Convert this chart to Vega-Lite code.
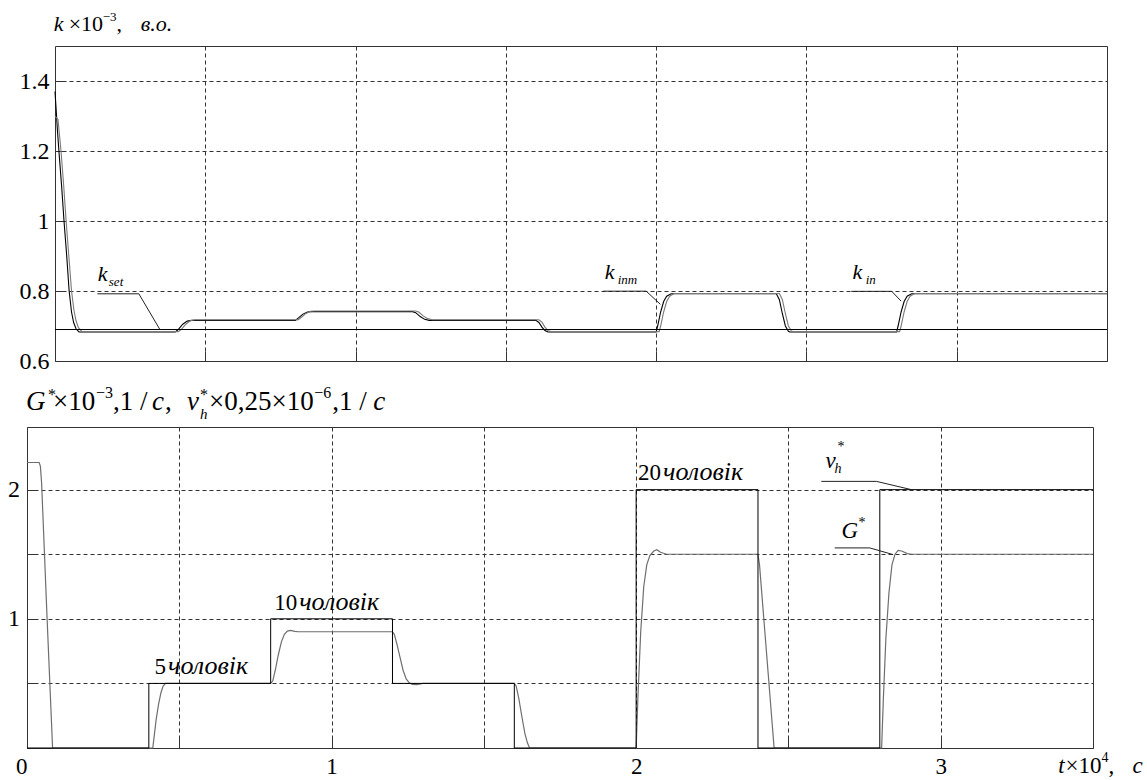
{
  "$schema": "https://vega.github.io/schema/vega-lite/v6.json",
  "padding": {"left": 5, "top": 10, "right": 0, "bottom": 0},
  "background": "white",
  "spacing": 10,
  "config": {
    "view": {"stroke": "#333", "strokeWidth": 1},
    "font": "Liberation Serif, Tinos, Times New Roman, serif",
    "text": {"font": "Liberation Serif, Tinos, Times New Roman, serif", "color": "black"},
    "axis": {"gridColor": "#333", "gridDash": [4, 3], "gridWidth": 1, "domain": false, "tickColor": "#333", "tickSize": -10, "labelFont": "Liberation Serif, Tinos, Times New Roman, serif", "labelFontSize": 24, "labelColor": "black", "format": "~g"}
  },
  "datasets": {
    "k": [
      {"s":"k_in","t":0,"k":1.37},{"s":"k_in","t":0.003,"k":1.33},{"s":"k_in","t":0.008,"k":1.26},{"s":"k_in","t":0.013,"k":1.2},{"s":"k_in","t":0.022,"k":1.1},{"s":"k_in","t":0.03,"k":1.0},{"s":"k_in","t":0.039,"k":0.9},{"s":"k_in","t":0.047,"k":0.8},{"s":"k_in","t":0.055,"k":0.74},{"s":"k_in","t":0.062,"k":0.71},{"s":"k_in","t":0.07,"k":0.692},{"s":"k_in","t":0.08,"k":0.683},{"s":"k_in","t":0.4,"k":0.683},{"s":"k_in","t":0.41,"k":0.69},{"s":"k_in","t":0.425,"k":0.705},{"s":"k_in","t":0.44,"k":0.714},{"s":"k_in","t":0.455,"k":0.716},{"s":"k_in","t":0.8,"k":0.716},{"s":"k_in","t":0.81,"k":0.723},{"s":"k_in","t":0.825,"k":0.734},{"s":"k_in","t":0.84,"k":0.74},{"s":"k_in","t":0.855,"k":0.741},{"s":"k_in","t":1.19,"k":0.741},{"s":"k_in","t":1.2,"k":0.738},{"s":"k_in","t":1.215,"k":0.727},{"s":"k_in","t":1.23,"k":0.719},{"s":"k_in","t":1.245,"k":0.716},{"s":"k_in","t":1.6,"k":0.716},{"s":"k_in","t":1.61,"k":0.71},{"s":"k_in","t":1.62,"k":0.697},{"s":"k_in","t":1.63,"k":0.687},{"s":"k_in","t":1.64,"k":0.683},{"s":"k_in","t":2.0,"k":0.683},{"s":"k_in","t":2.005,"k":0.7},{"s":"k_in","t":2.015,"k":0.74},{"s":"k_in","t":2.025,"k":0.77},{"s":"k_in","t":2.035,"k":0.785},{"s":"k_in","t":2.05,"k":0.792},{"s":"k_in","t":2.4,"k":0.792},{"s":"k_in","t":2.41,"k":0.775},{"s":"k_in","t":2.42,"k":0.735},{"s":"k_in","t":2.43,"k":0.7},{"s":"k_in","t":2.44,"k":0.685},{"s":"k_in","t":2.445,"k":0.683},{"s":"k_in","t":2.8,"k":0.683},{"s":"k_in","t":2.805,"k":0.7},{"s":"k_in","t":2.815,"k":0.74},{"s":"k_in","t":2.825,"k":0.77},{"s":"k_in","t":2.835,"k":0.785},{"s":"k_in","t":2.85,"k":0.792},{"s":"k_in","t":3.5,"k":0.792},
      {"s":"k_inm","t":0,"k":1.3},{"s":"k_inm","t":0.01,"k":1.29},{"s":"k_inm","t":0.02,"k":1.2},{"s":"k_inm","t":0.029,"k":1.1},{"s":"k_inm","t":0.037,"k":1.0},{"s":"k_inm","t":0.046,"k":0.9},{"s":"k_inm","t":0.055,"k":0.8},{"s":"k_inm","t":0.063,"k":0.745},{"s":"k_inm","t":0.07,"k":0.715},{"s":"k_inm","t":0.078,"k":0.695},{"s":"k_inm","t":0.09,"k":0.684},{"s":"k_inm","t":0.41,"k":0.684},{"s":"k_inm","t":0.42,"k":0.69},{"s":"k_inm","t":0.435,"k":0.705},{"s":"k_inm","t":0.45,"k":0.715},{"s":"k_inm","t":0.465,"k":0.718},{"s":"k_inm","t":0.81,"k":0.718},{"s":"k_inm","t":0.82,"k":0.725},{"s":"k_inm","t":0.835,"k":0.736},{"s":"k_inm","t":0.85,"k":0.742},{"s":"k_inm","t":0.865,"k":0.743},{"s":"k_inm","t":1.2,"k":0.743},{"s":"k_inm","t":1.21,"k":0.74},{"s":"k_inm","t":1.225,"k":0.729},{"s":"k_inm","t":1.24,"k":0.721},{"s":"k_inm","t":1.255,"k":0.718},{"s":"k_inm","t":1.61,"k":0.718},{"s":"k_inm","t":1.62,"k":0.711},{"s":"k_inm","t":1.63,"k":0.697},{"s":"k_inm","t":1.64,"k":0.687},{"s":"k_inm","t":1.65,"k":0.684},{"s":"k_inm","t":2.01,"k":0.684},{"s":"k_inm","t":2.015,"k":0.7},{"s":"k_inm","t":2.025,"k":0.74},{"s":"k_inm","t":2.035,"k":0.77},{"s":"k_inm","t":2.045,"k":0.785},{"s":"k_inm","t":2.06,"k":0.793},{"s":"k_inm","t":2.41,"k":0.793},{"s":"k_inm","t":2.42,"k":0.775},{"s":"k_inm","t":2.43,"k":0.735},{"s":"k_inm","t":2.44,"k":0.7},{"s":"k_inm","t":2.45,"k":0.686},{"s":"k_inm","t":2.455,"k":0.684},{"s":"k_inm","t":2.81,"k":0.684},{"s":"k_inm","t":2.815,"k":0.7},{"s":"k_inm","t":2.825,"k":0.74},{"s":"k_inm","t":2.835,"k":0.77},{"s":"k_inm","t":2.845,"k":0.785},{"s":"k_inm","t":2.86,"k":0.793},{"s":"k_inm","t":3.5,"k":0.793},
      {"s":"k_set","t":0,"k":0.69},{"s":"k_set","t":3.5,"k":0.69}
    ],
    "leadTop": [
      {"id":"set","t":0.141,"k":0.792},{"id":"set","t":0.279,"k":0.792},{"id":"set","t":0.349,"k":0.69},
      {"id":"inm","t":1.824,"k":0.7995},{"id":"inm","t":1.967,"k":0.7995},{"id":"inm","t":2.014,"k":0.762},
      {"id":"in","t":2.649,"k":0.799},{"id":"in","t":2.784,"k":0.799},{"id":"in","t":2.815,"k":0.771}
    ],
    "boxTop": [
      {"t":0.042,"t2":0.275,"k":0.807,"k2":0.905},
      {"t":1.832,"t2":1.966,"k":0.807,"k2":0.905},
      {"t":2.648,"t2":2.797,"k":0.807,"k2":0.905}
    ],
    "topIt": [
      {"t":-0.004,"k":1.543,"txt":"k"},{"t":0.2852,"k":1.543,"txt":"в.о."},
      {"t":0.142,"k":0.828,"txt":"k"},{"t":1.829,"k":0.833,"txt":"k"},{"t":2.6535,"k":0.833,"txt":"k"}
    ],
    "topUp": [
      {"t":0.0456,"k":1.543,"txt":"×10"},{"t":0.205,"k":1.543,"txt":","}
    ],
    "topSup": [
      {"t":0.1587,"k":1.5715,"txt":"−3"}
    ],
    "topSub": [
      {"t":0.179,"k":0.813,"txt":"set"},{"t":1.872,"k":0.821,"txt":"inm"},{"t":2.697,"k":0.821,"txt":"in"}
    ],
    "vh": [
      {"t":0,"v":0},{"t":0.4,"v":0.5},{"t":0.8,"v":1.0},{"t":1.2,"v":0.5},{"t":1.6,"v":0},{"t":2.0,"v":2.0},{"t":2.4,"v":0},{"t":2.8,"v":2.0},{"t":3.5,"v":2.0}
    ],
    "g": [
      {"t":0,"v":2.21},{"t":0.04,"v":2.21},{"t":0.044,"v":2.18},{"t":0.048,"v":2.05},{"t":0.066,"v":1.0},{"t":0.084,"v":0},{"t":0.413,"v":0},{"t":0.418,"v":0.1},{"t":0.424,"v":0.22},{"t":0.432,"v":0.34},{"t":0.44,"v":0.43},{"t":0.447,"v":0.48},{"t":0.455,"v":0.5},{"t":0.8,"v":0.5},{"t":0.807,"v":0.52},{"t":0.815,"v":0.6},{"t":0.825,"v":0.72},{"t":0.835,"v":0.82},{"t":0.845,"v":0.88},{"t":0.855,"v":0.905},{"t":0.865,"v":0.91},{"t":0.88,"v":0.903},{"t":0.89,"v":0.9},{"t":1.2,"v":0.9},{"t":1.206,"v":0.88},{"t":1.215,"v":0.8},{"t":1.225,"v":0.7},{"t":1.235,"v":0.6},{"t":1.245,"v":0.535},{"t":1.255,"v":0.505},{"t":1.265,"v":0.492},{"t":1.28,"v":0.49},{"t":1.3,"v":0.5},{"t":1.6,"v":0.5},{"t":1.606,"v":0.48},{"t":1.615,"v":0.38},{"t":1.625,"v":0.24},{"t":1.635,"v":0.11},{"t":1.643,"v":0.04},{"t":1.65,"v":0},{"t":2.0,"v":0},{"t":2.006,"v":0.4},{"t":2.015,"v":0.9},{"t":2.025,"v":1.25},{"t":2.035,"v":1.42},{"t":2.045,"v":1.49},{"t":2.058,"v":1.525},{"t":2.068,"v":1.535},{"t":2.08,"v":1.515},{"t":2.1,"v":1.5},{"t":2.4,"v":1.5},{"t":2.405,"v":1.42},{"t":2.453,"v":0},{"t":2.806,"v":0},{"t":2.812,"v":0.4},{"t":2.82,"v":0.85},{"t":2.83,"v":1.2},{"t":2.84,"v":1.42},{"t":2.85,"v":1.5},{"t":2.86,"v":1.53},{"t":2.872,"v":1.525},{"t":2.89,"v":1.505},{"t":2.905,"v":1.5},{"t":3.5,"v":1.5}
    ],
    "leadBot": [
      {"id":"vh","t":2.608,"v":2.064},{"id":"vh","t":2.789,"v":2.064},{"id":"vh","t":2.904,"v":2.0},
      {"id":"g","t":2.652,"v":1.549},{"id":"g","t":2.767,"v":1.549},{"id":"g","t":2.844,"v":1.497}
    ],
    "botTitleIt": [
      {"t":-0.0033,"v":2.614,"txt":"G"},{"t":0.4106,"v":2.614,"txt":"c"},{"t":0.5256,"v":2.614,"txt":"v"},{"t":1.1367,"v":2.614,"txt":"c"}
    ],
    "botTitleUp": [
      {"t":0.0854,"v":2.614,"txt":"×10"},{"t":0.2825,"v":2.614,"txt":",1 /"},{"t":0.4534,"v":2.614,"txt":","},{"t":0.5979,"v":2.614,"txt":"×0,25×10"},{"t":1.002,"v":2.614,"txt":",1 /"}
    ],
    "botTitleSup": [
      {"t":0.069,"v":2.696,"txt":"*"},{"t":0.2267,"v":2.712,"txt":"−3"},{"t":0.5683,"v":2.696,"txt":"*"},{"t":0.9428,"v":2.712,"txt":"−6"}
    ],
    "botTitleSub": [
      {"t":0.5683,"v":2.549,"txt":"h"}
    ],
    "botUp": [
      {"t":0.4183,"v":0.569,"txt":"5"},{"t":0.8114,"v":1.072,"txt":"10"},{"t":2.0062,"v":2.072,"txt":"20"},{"t":3.41,"v":-0.196,"txt":"×10"},{"t":3.551,"v":-0.196,"txt":","}
    ],
    "botWord": [
      {"t":0.4632,"v":0.569,"txt":"чоловік"},{"t":0.8936,"v":1.072,"txt":"чоловік"},{"t":2.0884,"v":2.072,"txt":"чоловік"}
    ],
    "botIt": [
      {"t":2.6216,"v":2.17,"txt":"v"},{"t":2.6741,"v":1.626,"txt":"G"},{"t":3.386,"v":-0.196,"txt":"t"},{"t":3.63,"v":-0.196,"txt":"c"}
    ],
    "botSup": [
      {"t":2.661,"v":2.302,"txt":"*"},{"t":2.73,"v":1.714,"txt":"*"},{"t":3.528,"v":-0.111,"txt":"4"}
    ],
    "botSub": [
      {"t":2.651,"v":2.131,"txt":"h"}
    ]
  },
  "vconcat": [
    {
      "hconcat": [
        {
          "width": 28,
          "height": 315,
          "view": {"stroke": null},
          "data": {"values": [{"a": 1}]},
          "mark": {"type": "point", "opacity": 0}
        },
        {
          "width": 1052,
          "height": 315,
          "layer": [
            {
              "data": {"name": "boxTop"},
              "mark": {"type": "rect", "color": "white"},
              "encoding": {
                "x": {"field": "t", "type": "quantitative", "title": null, "scale": {"domain": [0, 3.5], "nice": false, "zero": false}, "axis": {"values": [0.5, 1, 1.5, 2, 2.5, 3], "labels": false, "tickSize": -10}},
                "x2": {"field": "t2"},
                "y": {"field": "k", "type": "quantitative", "title": null, "scale": {"domain": [0.6, 1.5], "nice": false, "zero": false}, "axis": {"values": [0.6, 0.7, 0.8, 0.9, 1, 1.1, 1.2, 1.3, 1.4], "labelExpr": "round(datum.value*10) % 2 == 0 ? datum.label : ''", "labelPadding": 16, "minExtent": 49, "maxExtent": 49}},
                "y2": {"field": "k2"}
              }
            },
            {
              "data": {"name": "k"},
              "mark": {"type": "line", "strokeWidth": 1.1},
              "encoding": {
                "x": {"field": "t", "type": "quantitative", "title": null, "scale": {"domain": [0, 3.5], "nice": false, "zero": false}},
                "y": {"field": "k", "type": "quantitative", "title": null, "scale": {"domain": [0.6, 1.5], "nice": false, "zero": false}},
                "color": {"field": "s", "type": "nominal", "scale": {"domain": ["k_in", "k_inm", "k_set"], "range": ["#000000", "#7a7a7a", "#000000"]}, "legend": null}
              }
            },
            {
              "data": {"name": "leadTop"},
              "mark": {"type": "line", "strokeWidth": 1, "color": "#222"},
              "encoding": {
                "x": {"field": "t", "type": "quantitative", "title": null, "scale": {"domain": [0, 3.5], "nice": false, "zero": false}},
                "y": {"field": "k", "type": "quantitative", "title": null, "scale": {"domain": [0.6, 1.5], "nice": false, "zero": false}},
                "detail": {"field": "id"}
              }
            },
            {
              "data": {"name": "topIt"},
              "mark": {"type": "text", "align": "left", "baseline": "alphabetic", "font": "Liberation Serif, Tinos, Times New Roman, serif", "fontSize": 22, "fontStyle": "italic", "color": "black"},
              "encoding": {
                "x": {"field": "t", "type": "quantitative", "title": null, "scale": {"domain": [0, 3.5], "nice": false, "zero": false}},
                "y": {"field": "k", "type": "quantitative", "title": null, "scale": {"domain": [0.6, 1.5], "nice": false, "zero": false}},
                "text": {"field": "txt"}
              }
            },
            {
              "data": {"name": "topUp"},
              "mark": {"type": "text", "align": "left", "baseline": "alphabetic", "font": "Liberation Serif, Tinos, Times New Roman, serif", "fontSize": 22, "color": "black"},
              "encoding": {
                "x": {"field": "t", "type": "quantitative", "title": null, "scale": {"domain": [0, 3.5], "nice": false, "zero": false}},
                "y": {"field": "k", "type": "quantitative", "title": null, "scale": {"domain": [0.6, 1.5], "nice": false, "zero": false}},
                "text": {"field": "txt"}
              }
            },
            {
              "data": {"name": "topSup"},
              "mark": {"type": "text", "align": "left", "baseline": "alphabetic", "font": "Liberation Serif, Tinos, Times New Roman, serif", "fontSize": 13, "color": "black"},
              "encoding": {
                "x": {"field": "t", "type": "quantitative", "title": null, "scale": {"domain": [0, 3.5], "nice": false, "zero": false}},
                "y": {"field": "k", "type": "quantitative", "title": null, "scale": {"domain": [0.6, 1.5], "nice": false, "zero": false}},
                "text": {"field": "txt"}
              }
            },
            {
              "data": {"name": "topSub"},
              "mark": {"type": "text", "align": "left", "baseline": "alphabetic", "font": "Liberation Serif, Tinos, Times New Roman, serif", "fontSize": 13, "fontStyle": "italic", "color": "black"},
              "encoding": {
                "x": {"field": "t", "type": "quantitative", "title": null, "scale": {"domain": [0, 3.5], "nice": false, "zero": false}},
                "y": {"field": "k", "type": "quantitative", "title": null, "scale": {"domain": [0.6, 1.5], "nice": false, "zero": false}},
                "text": {"field": "txt"}
              }
            }
          ]
        }
      ],
      "spacing": 0,
      "bounds": "flush"
    },
    {
      "width": 1066,
      "height": 321,
      "layer": [
        {
          "data": {"name": "g"},
          "mark": {"type": "line", "strokeWidth": 1.2, "color": "#6e6e6e"},
          "encoding": {
            "x": {"field": "t", "type": "quantitative", "title": null, "scale": {"domain": [0, 3.5], "nice": false, "zero": false}, "axis": {"values": [0, 0.5, 1, 1.5, 2, 2.5, 3], "labelExpr": "datum.value % 1 == 0 ? datum.label : ''", "labelFlush": false, "labelFontSize": 23, "labelPadding": 17, "labelAlign": {"condition": {"test": "datum.value == 0", "value": "right"}, "value": "center"}, "tickSize": -10}},
            "y": {"field": "v", "type": "quantitative", "title": null, "scale": {"domain": [0, 2.485], "nice": false, "zero": false}, "axis": {"values": [0, 0.5, 1, 1.5, 2], "labelExpr": "datum.value == 1 || datum.value == 2 ? datum.label : ''", "labelPadding": 17.5, "minExtent": 21, "maxExtent": 21}}
          }
        },
        {
          "data": {"name": "vh"},
          "mark": {"type": "line", "strokeWidth": 1, "color": "#000", "interpolate": "step-after"},
          "encoding": {
            "x": {"field": "t", "type": "quantitative", "title": null, "scale": {"domain": [0, 3.5], "nice": false, "zero": false}},
            "y": {"field": "v", "type": "quantitative", "title": null, "scale": {"domain": [0, 2.485], "nice": false, "zero": false}}
          }
        },
        {
          "data": {"name": "leadBot"},
          "mark": {"type": "line", "strokeWidth": 1, "color": "#222"},
          "encoding": {
            "x": {"field": "t", "type": "quantitative", "title": null, "scale": {"domain": [0, 3.5], "nice": false, "zero": false}},
            "y": {"field": "v", "type": "quantitative", "title": null, "scale": {"domain": [0, 2.485], "nice": false, "zero": false}},
            "detail": {"field": "id"}
          }
        },
        {
          "data": {"name": "botTitleIt"},
          "mark": {"type": "text", "align": "left", "baseline": "alphabetic", "font": "Liberation Serif, Tinos, Times New Roman, serif", "fontSize": 27, "fontStyle": "italic", "color": "black"},
          "encoding": {
            "x": {"field": "t", "type": "quantitative", "title": null, "scale": {"domain": [0, 3.5], "nice": false, "zero": false}},
            "y": {"field": "v", "type": "quantitative", "title": null, "scale": {"domain": [0, 2.485], "nice": false, "zero": false}},
            "text": {"field": "txt"}
          }
        },
        {
          "data": {"name": "botTitleUp"},
          "mark": {"type": "text", "align": "left", "baseline": "alphabetic", "font": "Liberation Serif, Tinos, Times New Roman, serif", "fontSize": 27, "color": "black"},
          "encoding": {
            "x": {"field": "t", "type": "quantitative", "title": null, "scale": {"domain": [0, 3.5], "nice": false, "zero": false}},
            "y": {"field": "v", "type": "quantitative", "title": null, "scale": {"domain": [0, 2.485], "nice": false, "zero": false}},
            "text": {"field": "txt"}
          }
        },
        {
          "data": {"name": "botTitleSup"},
          "mark": {"type": "text", "align": "left", "baseline": "alphabetic", "font": "Liberation Serif, Tinos, Times New Roman, serif", "fontSize": 16, "color": "black"},
          "encoding": {
            "x": {"field": "t", "type": "quantitative", "title": null, "scale": {"domain": [0, 3.5], "nice": false, "zero": false}},
            "y": {"field": "v", "type": "quantitative", "title": null, "scale": {"domain": [0, 2.485], "nice": false, "zero": false}},
            "text": {"field": "txt"}
          }
        },
        {
          "data": {"name": "botTitleSub"},
          "mark": {"type": "text", "align": "left", "baseline": "alphabetic", "font": "Liberation Serif, Tinos, Times New Roman, serif", "fontSize": 15, "fontStyle": "italic", "color": "black"},
          "encoding": {
            "x": {"field": "t", "type": "quantitative", "title": null, "scale": {"domain": [0, 3.5], "nice": false, "zero": false}},
            "y": {"field": "v", "type": "quantitative", "title": null, "scale": {"domain": [0, 2.485], "nice": false, "zero": false}},
            "text": {"field": "txt"}
          }
        },
        {
          "data": {"name": "botUp"},
          "mark": {"type": "text", "align": "left", "baseline": "alphabetic", "font": "Liberation Serif, Tinos, Times New Roman, serif", "fontSize": 23, "color": "black"},
          "encoding": {
            "x": {"field": "t", "type": "quantitative", "title": null, "scale": {"domain": [0, 3.5], "nice": false, "zero": false}},
            "y": {"field": "v", "type": "quantitative", "title": null, "scale": {"domain": [0, 2.485], "nice": false, "zero": false}},
            "text": {"field": "txt"}
          }
        },
        {
          "data": {"name": "botWord"},
          "mark": {"type": "text", "align": "left", "baseline": "alphabetic", "font": "Liberation Serif, Tinos, Times New Roman, serif", "fontSize": 26, "fontStyle": "italic", "color": "black"},
          "encoding": {
            "x": {"field": "t", "type": "quantitative", "title": null, "scale": {"domain": [0, 3.5], "nice": false, "zero": false}},
            "y": {"field": "v", "type": "quantitative", "title": null, "scale": {"domain": [0, 2.485], "nice": false, "zero": false}},
            "text": {"field": "txt"}
          }
        },
        {
          "data": {"name": "botIt"},
          "mark": {"type": "text", "align": "left", "baseline": "alphabetic", "font": "Liberation Serif, Tinos, Times New Roman, serif", "fontSize": 23, "fontStyle": "italic", "color": "black"},
          "encoding": {
            "x": {"field": "t", "type": "quantitative", "title": null, "scale": {"domain": [0, 3.5], "nice": false, "zero": false}},
            "y": {"field": "v", "type": "quantitative", "title": null, "scale": {"domain": [0, 2.485], "nice": false, "zero": false}},
            "text": {"field": "txt"}
          }
        },
        {
          "data": {"name": "botSup"},
          "mark": {"type": "text", "align": "left", "baseline": "alphabetic", "font": "Liberation Serif, Tinos, Times New Roman, serif", "fontSize": 14, "color": "black"},
          "encoding": {
            "x": {"field": "t", "type": "quantitative", "title": null, "scale": {"domain": [0, 3.5], "nice": false, "zero": false}},
            "y": {"field": "v", "type": "quantitative", "title": null, "scale": {"domain": [0, 2.485], "nice": false, "zero": false}},
            "text": {"field": "txt"}
          }
        },
        {
          "data": {"name": "botSub"},
          "mark": {"type": "text", "align": "left", "baseline": "alphabetic", "font": "Liberation Serif, Tinos, Times New Roman, serif", "fontSize": 14, "fontStyle": "italic", "color": "black"},
          "encoding": {
            "x": {"field": "t", "type": "quantitative", "title": null, "scale": {"domain": [0, 3.5], "nice": false, "zero": false}},
            "y": {"field": "v", "type": "quantitative", "title": null, "scale": {"domain": [0, 2.485], "nice": false, "zero": false}},
            "text": {"field": "txt"}
          }
        }
      ]
    }
  ]
}
